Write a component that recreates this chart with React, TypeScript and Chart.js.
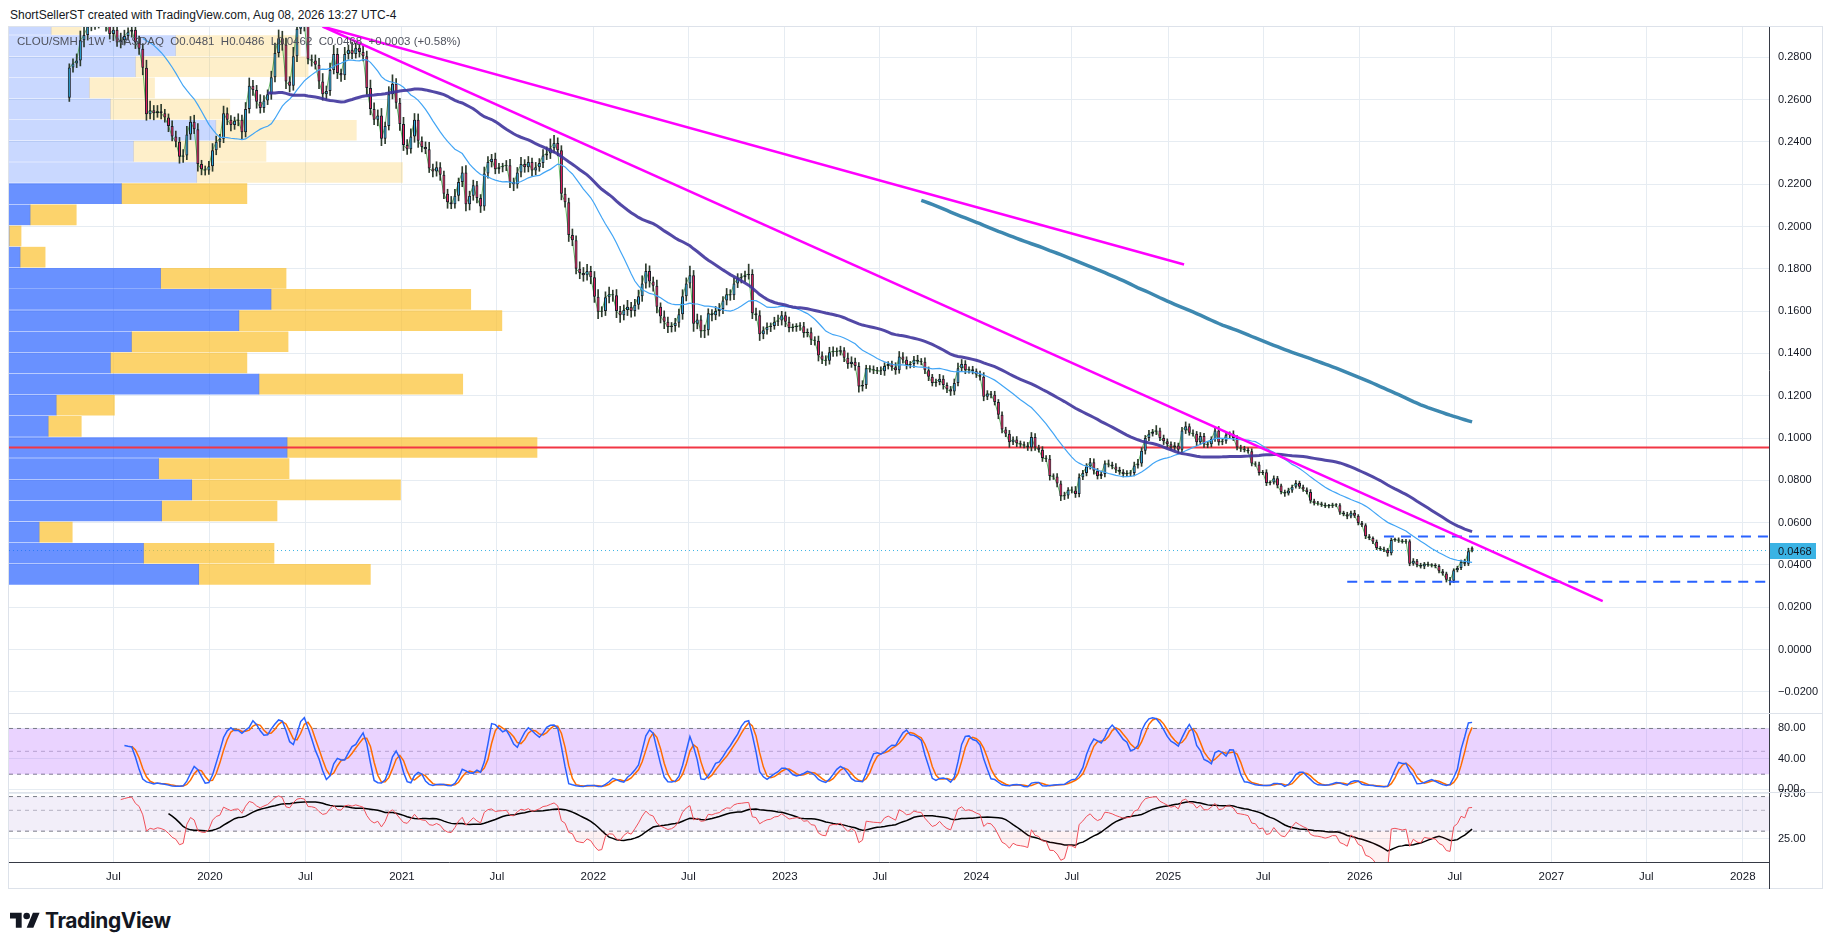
import React, { useEffect, useRef } from 'react';
import { Chart, registerables } from 'chart.js';

Chart.register(...registerables);

// ---------------- data ----------------
const TITLE = 'ShortSellerST created with TradingView.com, Aug 08, 2026 13:27 UTC-4';
const SYMBOL = 'CLOU/SMH';
const INTERVAL = '1W';
const EXCHANGE = 'NASDAQ';
const LEGEND_OHLC = { o: 0.0481, h: 0.0486, l: 0.0462, c: 0.0468, change: 0.0003, changePct: 0.58 };

const FIRST_WEEK = '2019-04-08';
const FIRST_OPEN = 0.2608;
// weekly closes, in units of 0.0001
const CLOSE_E4 = [
  2751, 2770, 2785, 2880, 2905, 2945, 2975, 2960, 2985, 2965,
  2950, 2910, 2930, 2870, 2880, 2900, 2920, 2930, 2870, 2840,
  2750, 2530, 2550, 2535, 2545, 2535, 2515, 2475, 2425, 2400,
  2330, 2335, 2435, 2495, 2460, 2295, 2270, 2265, 2285, 2360,
  2400, 2415, 2535, 2505, 2480, 2500, 2505, 2445, 2555, 2665,
  2645, 2590, 2560, 2595, 2625, 2705, 2820, 2890, 2860, 2685,
  2665, 2805, 2935, 2970, 2955, 2790, 2785, 2765, 2685, 2625,
  2640, 2740, 2815, 2725, 2715, 2815, 2835, 2815, 2845, 2825,
  2805, 2655, 2555, 2505, 2525, 2415, 2475, 2625, 2675, 2585,
  2485, 2385, 2365, 2425, 2505, 2405, 2376, 2365, 2274, 2260,
  2280, 2245, 2155, 2115, 2105, 2145, 2210, 2255, 2105, 2145,
  2195, 2135, 2095, 2250, 2305, 2320, 2270, 2280, 2285, 2290,
  2210, 2200, 2255, 2295, 2280, 2305, 2265, 2280, 2300, 2335,
  2345, 2370, 2395, 2360, 2155, 2115, 1960, 1935, 1800, 1780,
  1770, 1790, 1760, 1668, 1597, 1600, 1665, 1680, 1675, 1600,
  1580, 1605, 1620, 1600, 1630, 1670, 1730, 1790, 1740, 1720,
  1620, 1575, 1550, 1525, 1530, 1545, 1585, 1670, 1730, 1770,
  1540, 1560, 1505, 1510, 1590, 1580, 1600, 1610, 1650, 1680,
  1675, 1730, 1755, 1760, 1770, 1775, 1590, 1580, 1490, 1510,
  1525, 1530, 1550, 1555, 1580, 1550, 1520, 1525, 1530, 1528,
  1497, 1500, 1465, 1460, 1390, 1370, 1365, 1405, 1410, 1408,
  1415, 1380, 1350, 1360, 1340, 1243, 1250, 1330, 1325, 1320,
  1318, 1315, 1340, 1350, 1335, 1320, 1385, 1370, 1345, 1350,
  1370, 1362, 1360, 1320, 1290, 1260, 1265, 1280, 1250, 1230,
  1220, 1260, 1330, 1350, 1320, 1325, 1315, 1300, 1290, 1195,
  1210, 1205, 1170, 1110, 1040, 1020, 980, 993, 975, 970,
  965, 955, 1005, 955, 945, 905, 902, 820, 818, 785,
  725, 728, 755, 752, 735, 815, 835, 865, 885, 845,
  820, 830, 880, 875, 865, 850, 840, 830, 832, 835,
  870, 880, 940, 1000, 1020, 1030, 1035, 1000, 985, 970,
  955, 965, 945, 1035, 1055, 1025, 1020, 980, 1010, 970,
  970, 995, 1035, 980, 985, 1015, 1018, 1000, 955, 950,
  945, 937, 880, 875, 835, 838, 787, 790, 810, 775,
  745, 738, 752, 770, 787, 770, 756, 745, 703, 692,
  690, 685, 678, 680, 683, 682, 648, 640, 629, 647,
  632, 598, 588, 535, 527, 510, 480, 475, 472, 455,
  518, 520, 515, 510, 512, 405, 420, 400, 393, 405,
  400, 398, 395, 370, 360, 330, 325, 375, 385, 415,
  405, 465, 468,
];
// upper wick above the body, units of 0.0001
const WICK_HI_E4 = [
  18, 22, 31, 44, 38, 27, 30, 24, 20, 33, 26, 37, 29, 21, 34, 28, 19, 26, 41, 30,
  24, 36, 43, 22, 27, 33, 19, 17, 24, 26, 21, 29, 38, 25, 31, 27, 18, 16, 23, 32,
  27, 21, 34, 26, 19, 17, 28, 22, 31, 37, 26, 22, 33, 24, 21, 29, 47, 39, 33, 31,
  23, 42, 20, 16, 27, 34, 21, 26, 30, 38, 24, 33, 41, 27, 19, 32, 23, 36, 21, 26,
  31, 24, 37, 29, 26, 33, 18, 36, 42, 24, 21, 31, 26, 37, 29, 27, 19, 24, 33, 21,
  26, 22, 17, 21, 27, 31, 19, 28, 33, 22, 24, 19, 16, 31, 26, 21, 27, 18, 14, 22,
  27, 19, 24, 32, 21, 26, 18, 23, 21, 28, 31, 44, 36, 24, 22, 27, 19, 28, 21, 33,
  26, 31, 22, 27, 34, 21, 26, 33, 19, 27, 22, 24, 31, 21, 26, 29, 37, 33, 24, 21,
  27, 19, 26, 22, 16, 21, 24, 31, 27, 43, 22, 26, 19, 24, 21, 17, 22, 26, 19, 27,
  21, 26, 22, 17, 19, 47, 21, 24, 22, 16, 19, 14, 21, 26, 19, 16, 22, 14, 11, 16,
  19, 16, 21, 14, 22, 17, 19, 24, 21, 16, 19, 13, 22, 24, 18, 16, 21, 14, 12, 16,
  14, 19, 16, 11, 14, 21, 24, 19, 14, 12, 16, 21, 14, 19, 16, 11, 14, 21, 15, 11,
  14, 19, 24, 21, 16, 11, 14, 12, 16, 19, 14, 11, 16, 12, 14, 11, 16, 12, 14, 11,
  12, 14, 21, 16, 11, 14, 12, 16, 11, 14, 12, 16, 11, 14, 19, 16, 12, 14, 19, 16,
  11, 14, 12, 16, 11, 14, 12, 11, 14, 12, 16, 19, 14, 12, 16, 11, 24, 12, 14, 11,
  12, 14, 11, 16, 21, 12, 14, 11, 16, 12, 14, 11, 16, 19, 12, 14, 11, 16, 12, 11,
  11, 9, 12, 8, 11, 9, 12, 8, 11, 9, 7, 9, 11, 8, 12, 9, 7, 9, 11, 8,
  9, 7, 8, 6, 9, 7, 8, 6, 9, 7, 11, 6, 8, 7, 9, 6, 8, 7, 9, 6,
  9, 7, 8, 6, 9, 7, 10, 6, 8, 7, 9, 6, 8, 7, 9, 6, 11, 7, 9, 8, 12, 14, 18,
];
// lower wick below the body, units of 0.0001
const WICK_LO_E4 = [
  17, 21, 19, 26, 31, 24, 20, 28, 22, 19, 27, 24, 31, 19, 26, 22, 18, 25, 29, 27,
  33, 28, 21, 31, 19, 26, 22, 27, 21, 24, 31, 27, 19, 24, 21, 33, 26, 22, 19, 24,
  21, 26, 19, 24, 28, 21, 24, 31, 22, 19, 26, 31, 24, 21, 19, 24, 22, 19, 27, 33,
  29, 21, 26, 24, 31, 22, 27, 21, 33, 28, 24, 21, 19, 26, 29, 21, 24, 22, 19, 24,
  22, 31, 27, 24, 29, 33, 24, 19, 22, 27, 31, 26, 24, 19, 27, 31, 24, 21, 19, 26,
  22, 27, 24, 29, 21, 19, 24, 22, 31, 27, 21, 24, 29, 19, 22, 24, 21, 19, 22, 21,
  27, 31, 19, 21, 24, 22, 26, 21, 19, 22, 19, 24, 21, 26, 29, 24, 31, 26, 24, 27,
  29, 24, 31, 27, 33, 24, 21, 26, 29, 31, 34, 22, 26, 29, 24, 21, 24, 22, 27, 26,
  29, 31, 33, 27, 24, 26, 21, 24, 22, 21, 36, 24, 29, 31, 24, 26, 21, 24, 22, 21,
  24, 21, 19, 22, 21, 19, 26, 24, 29, 21, 19, 22, 16, 19, 21, 24, 19, 16, 21, 19,
  21, 19, 24, 21, 26, 19, 22, 16, 19, 21, 16, 19, 21, 16, 19, 26, 21, 16, 14, 16,
  14, 16, 19, 14, 16, 19, 14, 16, 19, 14, 16, 12, 14, 16, 19, 14, 16, 14, 19, 16,
  19, 16, 14, 12, 16, 14, 12, 14, 16, 19, 14, 16, 14, 19, 16, 14, 24, 12, 16, 14,
  12, 14, 16, 14, 12, 16, 14, 19, 14, 16, 21, 16, 14, 12, 16, 14, 12, 14, 12, 16,
  14, 12, 14, 12, 11, 14, 12, 14, 11, 12, 14, 12, 14, 16, 12, 11, 14, 12, 16, 14,
  14, 12, 16, 11, 14, 12, 11, 16, 12, 14, 16, 12, 11, 14, 12, 11, 14, 12, 11, 14,
  11, 9, 12, 9, 11, 8, 12, 9, 8, 11, 9, 14, 8, 9, 7, 9, 8, 9, 11, 9,
  8, 9, 7, 8, 9, 7, 9, 8, 11, 7, 8, 9, 7, 11, 8, 9, 8, 7, 9, 14,
  8, 7, 9, 7, 8, 9, 7, 9, 8, 11, 7, 8, 9, 8, 9, 11, 20, 9, 8, 7, 9, 8, 6,
];

// visible range volume profile: rows of 0.01 from VP_LOW upward (relative volume)
const VP_LOW = 0.0305;
const VP_ROW = 0.01;
const VP_UP = [189, 134, 30, 152, 182, 149, 277, 39, 47, 249, 101, 122, 229, 261, 151, 11, 0, 21, 112, 187, 124, 206, 101, 80, 126, 166, 42];
const VP_DOWN = [171, 130, 33, 115, 208, 130, 249, 33, 58, 203, 136, 156, 262, 199, 125, 25, 12, 46, 125, 205, 132, 140, 119, 65, 172, 124, 30];
const VP_VALUE_AREA = 0.7;
const VP_WIDTH_SHARE = 0.3;

// indicator settings
const MA_FAST = 21;
const MA_MID = 55;
const MA_SLOW = 233;
const RSI_LEN = 14;
const RSI_MA_LEN = 14;
const STOCH_LEN = 14;
const STOCH_K = 3;
const STOCH_D = 3;

// drawings
const TREND_LINES = [
  { start: '2020-08-03', startPrice: 0.2945, end: '2027-04-09', endPrice: 0.0229 },
  { start: '2020-08-03', startPrice: 0.2945, end: '2025-01-31', endPrice: 0.182 },
];
const RAYS = [
  { start: '2026-02-16', price: 0.0534 },
  { start: '2025-12-08', price: 0.0321 },
];

// axes
const VIEW_START = '2018-12-14';
const VIEW_END = '2028-02-20';
const PRICE_RANGE = [-0.03, 0.2943];
const STOCH_RANGE = [-3.4, 100.3];
const RSI_RANGE = [14.1, 78.3]; // logarithmic pane
const PRICE_TICKS = [-0.02, 0, 0.02, 0.04, 0.06, 0.08, 0.1, 0.12, 0.14, 0.16, 0.18, 0.2, 0.22, 0.24, 0.26, 0.28];
const STOCH_TICKS = [0, 40, 80];
const STOCH_BANDS = [80, 50, 20];
const RSI_TICKS = [25, 75];
const RSI_BANDS = [70, 50, 30];
const TIME_TICKS = [
  '2019-07-01', '2020-01-01', '2020-07-01', '2021-01-01', '2021-07-01', '2022-01-01',
  '2022-07-01', '2023-01-01', '2023-07-01', '2024-01-01', '2024-07-01', '2025-01-01',
  '2025-07-01', '2026-01-01', '2026-07-01', '2027-01-01', '2027-07-01', '2028-01-01',
];
const MONTHS = ['Jan', 'Feb', 'Mar', 'Apr', 'May', 'Jun', 'Jul', 'Aug', 'Sep', 'Oct', 'Nov', 'Dec'];

// ---------------- styling ----------------
const FONT = "'Liberation Sans', Arial, sans-serif";
const TEXT = '#131722';
const GRID = '#e6ecf2';
const AXIS = '#363a45';
const SEPARATOR = '#dde2ea';
const UP = '#2aa9e0';
const DOWN = '#e91e63';
const CANDLE_BORDER = '#1b1e27';
const WICK = '#2d3b2d';

// ---------------- derived series ----------------
const DAY = 86400000;
const ts = (d: string) => Date.parse(d + 'T00:00:00Z');
const X_MIN = ts(VIEW_START);
const X_MAX = ts(VIEW_END);
const T0 = ts(FIRST_WEEK);
const N = CLOSE_E4.length;
const times = CLOSE_E4.map((_, i) => T0 + i * 7 * DAY);
const closes = CLOSE_E4.map((v) => v / 1e4);
const opens = closes.map((c, i) => (i === 0 ? FIRST_OPEN : closes[i - 1]));
opens[N - 1] = LEGEND_OHLC.o;
const highs = closes.map((c, i) => Math.max(opens[i], c) + (WICK_HI_E4[i] ?? 0) / 1e4);
const lows = closes.map((c, i) => Math.min(opens[i], c) - (WICK_LO_E4[i] ?? 0) / 1e4);
highs[N - 1] = LEGEND_OHLC.h;
lows[N - 1] = LEGEND_OHLC.l;

function sma(a: (number | null)[], n: number) {
  const out: (number | null)[] = a.map(() => null);
  for (let i = n - 1; i < a.length; i++) {
    let s = 0;
    let ok = true;
    for (let j = i - n + 1; j <= i; j++) {
      const v = a[j];
      if (v == null) { ok = false; break; }
      s += v;
    }
    if (ok) out[i] = s / n;
  }
  return out;
}
function rsi(c: number[], n: number) {
  const out: (number | null)[] = c.map(() => null);
  let ag = 0;
  let al = 0;
  for (let i = 1; i < c.length; i++) {
    const d = c[i] - c[i - 1];
    const g = Math.max(d, 0);
    const l = Math.max(-d, 0);
    if (i <= n) {
      ag += g / n;
      al += l / n;
      if (i < n) continue;
    } else {
      ag = (ag * (n - 1) + g) / n;
      al = (al * (n - 1) + l) / n;
    }
    out[i] = al === 0 ? 100 : 100 - 100 / (1 + ag / al);
  }
  return out;
}
// stochastic oscillator on the candles (close vs. highest high / lowest low)
function stochastic(c: number[], h: number[], l: number[], n: number) {
  const out: (number | null)[] = c.map(() => null);
  for (let i = n - 1; i < c.length; i++) {
    let lo = Infinity;
    let hi = -Infinity;
    for (let j = i - n + 1; j <= i; j++) {
      lo = Math.min(lo, l[j]);
      hi = Math.max(hi, h[j]);
    }
    out[i] = hi === lo ? 50 : (c[i] - lo) / (hi - lo) * 100;
  }
  return out;
}

const maFast = sma(closes, MA_FAST);
const maMid = sma(closes, MA_MID);
const maSlow = sma(closes, MA_SLOW);
const rsiSeries = rsi(closes, RSI_LEN);
const rsiMa = sma(rsiSeries, RSI_MA_LEN);
const stochK = sma(stochastic(closes, highs, lows, STOCH_LEN), STOCH_K);
const stochD = sma(stochK, STOCH_D);

// value area of the profile (expand from the point of control)
const vpTotal = VP_UP.map((u, k) => u + VP_DOWN[k]);
const vpSum = vpTotal.reduce((s, v) => s + v, 0);
const poc = vpTotal.indexOf(Math.max(...vpTotal));
let vaLo = poc;
let vaHi = poc;
let vaVol = vpTotal[poc];
while (vaVol < VP_VALUE_AREA * vpSum && (vaLo > 0 || vaHi < vpTotal.length - 1)) {
  const below = vaLo > 0 ? vpTotal[vaLo - 1] : -1;
  const above = vaHi < vpTotal.length - 1 ? vpTotal[vaHi + 1] : -1;
  if (above >= below) { vaHi++; vaVol += vpTotal[vaHi]; } else { vaLo--; vaVol += vpTotal[vaLo]; }
}
const inVA = (k: number) => k >= vaLo && k <= vaHi;
const rowCenter = (k: number) => VP_LOW + VP_ROW * (k + 0.5);
const pocPrice = rowCenter(poc);
const vpMax = Math.max(...vpTotal) / VP_WIDTH_SHARE;

const series = (arr: (number | null)[]) => arr.map((v, i) => ({ x: times[i], y: v }));
const hline = (y: number, from = X_MIN) => [{ x: from, y }, { x: X_MAX, y }];
const fmt = (v: number, d: number) => (v < 0 ? '\u2212' : '') + Math.abs(v).toFixed(d);
const lastClose = closes[N - 1];

const paneLine = (yAxisID: string, y: number, color: string, extra: any = {}) => ({
  type: 'line',
  xAxisID: 'x',
  yAxisID,
  data: hline(y),
  borderColor: color,
  borderWidth: 1,
  borderDash: [4, 4],
  pointRadius: 0,
  fill: false,
  order: 80,
  ...extra,
});

const fitY = (s: any) => {
  s.width = 54;
  s.paddingTop = 0;
  s.paddingBottom = 0;
};

const panesPlugin = {
  id: 'panes',
  afterDraw(chart: any) {
    const { ctx, chartArea, scales } = chart;
    ctx.save();
    ctx.lineWidth = 1;
    ctx.strokeStyle = SEPARATOR;
    ['ys', 'yr'].forEach((id) => {
      const y = Math.round(scales[id].top) + 0.5;
      ctx.beginPath();
      ctx.moveTo(chartArea.left, y);
      ctx.lineTo(chart.width, y);
      ctx.stroke();
    });
    ctx.strokeStyle = AXIS;
    const ax = Math.round(chartArea.right) + 0.5;
    ctx.beginPath();
    ctx.moveTo(ax, chartArea.bottom);
    ctx.lineTo(ax, chart.height);
    ctx.stroke();
    const py = scales.y.getPixelForValue(lastClose);
    ctx.fillStyle = '#3bb3e4';
    ctx.fillRect(chartArea.right + 1, Math.round(py) - 8, 46, 16);
    ctx.fillStyle = TEXT;
    ctx.font = `11px ${FONT}`;
    ctx.textBaseline = 'middle';
    ctx.textAlign = 'left';
    ctx.fillText(lastClose.toFixed(4), chartArea.right + 9, Math.round(py) + 0.5);
    ctx.restore();
  },
};

function buildConfig(): any {
  const datasets: any[] = [
    {
      type: 'line', xAxisID: 'x', yAxisID: 'y', data: hline(lastClose),
      borderColor: '#3bb3e4', borderWidth: 1, borderDash: [1, 3], pointRadius: 0, order: 100,
    },
    {
      type: 'bar', indexAxis: 'y', xAxisID: 'xv', yAxisID: 'y',
      data: VP_DOWN.map((d, k) => ({ x: [VP_UP[k], VP_UP[k] + d], y: rowCenter(k) })),
      backgroundColor: VP_DOWN.map((_, k) => (inVA(k) ? 'rgba(251,192,45,0.7)' : 'rgba(251,192,45,0.25)')),
      borderWidth: 0, barThickness: 20, grouped: false, order: 90,
    },
    {
      type: 'bar', indexAxis: 'y', xAxisID: 'xv', yAxisID: 'y',
      data: VP_UP.map((u, k) => ({ x: [0, u], y: rowCenter(k) })),
      backgroundColor: VP_UP.map((_, k) => (inVA(k) ? 'rgba(41,98,255,0.7)' : 'rgba(41,98,255,0.25)')),
      borderWidth: 0, barThickness: 20, grouped: false, order: 89,
    },
    {
      type: 'line', xAxisID: 'x', yAxisID: 'y', data: hline(pocPrice),
      borderColor: '#f23645', borderWidth: 2, pointRadius: 0, order: 85,
    },
    {
      type: 'line', xAxisID: 'x', yAxisID: 'y', data: series(closes),
      borderColor: 'rgba(76,175,80,0.85)', borderWidth: 1, pointRadius: 0, order: 70,
    },
    {
      type: 'bar', xAxisID: 'x', yAxisID: 'y',
      data: times.map((t, i) => ({ x: t, y: [lows[i], highs[i]] })),
      backgroundColor: WICK, barThickness: 1, grouped: false, borderWidth: 0, order: 60,
    },
    {
      type: 'bar', xAxisID: 'x', yAxisID: 'y',
      data: times.map((t, i) => ({ x: t, y: [opens[i], closes[i]] })),
      backgroundColor: closes.map((c, i) => (c >= opens[i] ? UP : DOWN)),
      borderColor: CANDLE_BORDER, borderWidth: 1, borderSkipped: false,
      barPercentage: 0.82, categoryPercentage: 1, grouped: false, minBarLength: 1, order: 50,
    },
    {
      type: 'line', xAxisID: 'x', yAxisID: 'y', data: series(maFast),
      borderColor: '#42a5f5', borderWidth: 1.2, pointRadius: 0, order: 40,
    },
    {
      type: 'line', xAxisID: 'x', yAxisID: 'y', data: series(maMid),
      borderColor: 'rgba(63,52,156,0.9)', borderWidth: 3, pointRadius: 0, order: 39,
    },
    {
      type: 'line', xAxisID: 'x', yAxisID: 'y', data: series(maSlow),
      borderColor: '#3d88b0', borderWidth: 3.5, pointRadius: 0, order: 38,
    },
    ...TREND_LINES.map((l) => ({
      type: 'line', xAxisID: 'x', yAxisID: 'y',
      data: [{ x: ts(l.start), y: l.startPrice }, { x: ts(l.end), y: l.endPrice }],
      borderColor: '#ff00ff', borderWidth: 2.5, pointRadius: 0, order: 20,
    })),
    ...RAYS.map((r) => ({
      type: 'line', xAxisID: 'x', yAxisID: 'y', data: hline(r.price, ts(r.start)),
      borderColor: '#2962ff', borderWidth: 2, borderDash: [10, 7], pointRadius: 0, order: 20,
    })),
    // stochastic pane
    paneLine('ys', STOCH_BANDS[0], '#787b86', { fill: { value: STOCH_BANDS[2] }, backgroundColor: 'rgba(170,80,255,0.25)' }),
    paneLine('ys', STOCH_BANDS[1], 'rgba(120,123,134,0.5)'),
    paneLine('ys', STOCH_BANDS[2], '#787b86'),
    {
      type: 'line', xAxisID: 'x', yAxisID: 'ys', data: series(stochD),
      borderColor: '#ff6d00', borderWidth: 1.5, pointRadius: 0, order: 11,
    },
    {
      type: 'line', xAxisID: 'x', yAxisID: 'ys', data: series(stochK),
      borderColor: '#2962ff', borderWidth: 1.5, pointRadius: 0, order: 10,
    },
    // RSI pane
    paneLine('yr', RSI_BANDS[0], '#787b86', { fill: { value: RSI_BANDS[2] }, backgroundColor: 'rgba(126,87,194,0.1)' }),
    paneLine('yr', RSI_BANDS[1], 'rgba(120,123,134,0.5)'),
    paneLine('yr', RSI_BANDS[2], '#787b86'),
    {
      type: 'line', xAxisID: 'x', yAxisID: 'yr', data: series(rsiSeries),
      borderColor: 'rgba(0,0,0,0)', borderWidth: 0, pointRadius: 0, order: 12,
      fill: { target: { value: RSI_BANDS[0] }, above: 'rgba(8,153,129,0.12)', below: 'rgba(0,0,0,0)' },
    },
    {
      type: 'line', xAxisID: 'x', yAxisID: 'yr', data: series(rsiMa),
      borderColor: '#000000', borderWidth: 1.5, pointRadius: 0, order: 11,
    },
    {
      type: 'line', xAxisID: 'x', yAxisID: 'yr', data: series(rsiSeries),
      borderColor: '#f0505a', borderWidth: 1, pointRadius: 0, order: 10,
      fill: { target: { value: RSI_BANDS[2] }, above: 'rgba(0,0,0,0)', below: 'rgba(242,54,69,0.07)' },
    },
  ];

  const yCommon = (type: string, range: number[], ticks: number[], digits: number, weight: number) => ({
    type,
    position: 'right',
    stack: 'panes',
    stackWeight: weight,
    min: range[0],
    max: range[1],
    offset: false,
    grid: { color: GRID, drawTicks: false, offset: false },
    border: { color: AXIS, display: true },
    ticks: {
      padding: 9, color: TEXT, font: { size: 11, family: FONT },
      callback: (v: number) => fmt(v, digits),
    },
    afterBuildTicks: (s: any) => { s.ticks = ticks.map((v) => ({ value: v })); },
    afterFit: fitY,
  });

  return {
    type: 'bar',
    data: { datasets },
    plugins: [panesPlugin],
    options: {
      responsive: false,
      animation: false,
      events: [],
      normalized: true,
      layout: { padding: 0 },
      elements: { point: { radius: 0 }, line: { tension: 0 } },
      plugins: { legend: { display: false }, tooltip: { enabled: false }, title: { display: false } },
      scales: {
        x: {
          type: 'linear', position: 'bottom', min: X_MIN, max: X_MAX, offset: false,
          grid: { color: GRID, drawTicks: false, offset: false },
          border: { color: AXIS },
          ticks: {
            autoSkip: false, maxRotation: 0, padding: 8, color: TEXT, font: { size: 11.5, family: FONT },
            callback: (v: number) => {
              const d = new Date(v);
              return d.getUTCMonth() === 0 ? String(d.getUTCFullYear()) : MONTHS[d.getUTCMonth()];
            },
          },
          afterBuildTicks: (s: any) => { s.ticks = TIME_TICKS.map((d) => ({ value: ts(d) })); },
          afterFit: (s: any) => { s.height = 27; s.paddingLeft = 0; s.paddingRight = 0; },
        },
        xv: { type: 'linear', display: false, min: 0, max: vpMax, offset: false, grid: { offset: false } },
        y: yCommon('linear', PRICE_RANGE, PRICE_TICKS, 4, 686),
        ys: yCommon('linear', STOCH_RANGE, STOCH_TICKS, 2, 79),
        yr: yCommon('logarithmic', RSI_RANGE, RSI_TICKS, 2, 70),
      },
    },
  };
}

export default function App() {
  const ref = useRef<HTMLCanvasElement>(null);
  useEffect(() => {
    document.body.style.margin = '0';
    Chart.defaults.font.family = FONT;
    const canvas = ref.current;
    if (!canvas) return;
    const chart = new Chart(canvas, buildConfig());
    return () => chart.destroy();
  }, []);

  const o = LEGEND_OHLC;
  const legend = `${SYMBOL} \u00b7 ${INTERVAL} \u00b7 ${EXCHANGE}  O${o.o.toFixed(4)}  H${o.h.toFixed(4)}  L${o.l.toFixed(4)}  C${o.c.toFixed(4)}  +${o.change.toFixed(4)} (+${o.changePct.toFixed(2)}%)`;

  return (
    <div style={{ position: 'absolute', left: 0, top: 0, width: 1835, height: 951, background: '#ffffff', fontFamily: FONT, overflow: 'hidden' }}>
      <div style={{ position: 'absolute', left: 10, top: 8, fontSize: 12, lineHeight: '14px', color: TEXT, whiteSpace: 'pre' }}>{TITLE}</div>
      <div style={{ position: 'absolute', left: 8, top: 26, width: 1815, height: 863, border: `1px solid ${SEPARATOR}`, boxSizing: 'border-box', pointerEvents: 'none' }} />
      <div style={{ position: 'absolute', left: 9, top: 27, width: 1814, height: 862 }}>
        <canvas ref={ref} width={1814} height={862} style={{ display: 'block' }} />
      </div>
      <div style={{ position: 'absolute', left: 17, top: 34, fontSize: 11.5, lineHeight: '15px', color: '#50535e', whiteSpace: 'pre' }}>{legend}</div>
      <div style={{ position: 'absolute', left: 10, top: 908, display: 'flex', alignItems: 'center', gap: 5 }}>
        <svg width="30" height="24" viewBox="0 0 36 28">
          <path d="M14 22H7V11H0V4h14v18zM28 22h-8l7.5-18h8L28 22z" fill="#131722" />
          <circle cx="20" cy="8" r="4" fill="#131722" />
        </svg>
        <span style={{ fontFamily: 'Inter, sans-serif', fontWeight: 700, fontSize: 21, color: '#131722', letterSpacing: -0.4 }}>TradingView</span>
      </div>
    </div>
  );
}
